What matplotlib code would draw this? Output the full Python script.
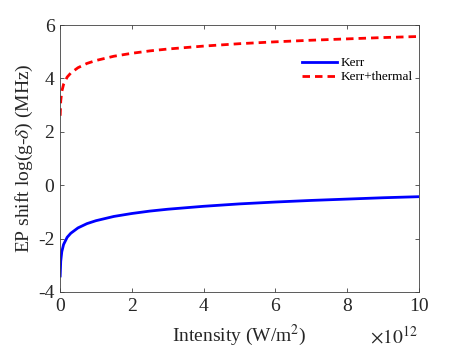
import matplotlib
matplotlib.use("Agg")
import matplotlib.pyplot as plt

intensity = [0.005, 0.02, 0.05, 0.1, 0.2, 0.3, 0.5, 0.75, 1, 1.5, 2, 2.5,
             3, 4, 5, 6, 7, 8, 9, 10]
kerr = [-3.40, -2.85, -2.49, -2.22, -1.95, -1.80, -1.60, -1.44, -1.33, -1.17,
        -1.06, -0.97, -0.90, -0.79, -0.70, -0.63, -0.57, -0.52, -0.47, -0.43]
kerr_thermal = [2.60, 3.15, 3.51, 3.78, 4.05, 4.20, 4.40, 4.56, 4.67, 4.83,
                4.94, 5.03, 5.10, 5.21, 5.30, 5.37, 5.43, 5.48, 5.53, 5.57]
xticks = [0, 2, 4, 6, 8, 10]
yticks = [-4, -2, 0, 2, 4, 6]

plt.rcParams['font.family'] = ['Liberation Serif', 'DejaVu Serif']
plt.rcParams['mathtext.fontset'] = 'stix'

fig = plt.figure(figsize=(4.63, 3.48), dpi=100)
ax = fig.add_axes([60/463, 1-292/348, (419-60)/463, (292-25)/348])

ax.plot(intensity, kerr, color='#0000ff', lw=2.0, label='Kerr')
ax.plot(intensity, kerr_thermal, color='#ff0000', lw=2.0, ls=(0, (2.7, 1.8)),
        label='Kerr+thermal')

ax.set_xlim(0, 10)
ax.set_ylim(-4, 6)
ax.set_xticks(xticks)
ax.set_yticks(yticks)
ax.set_xticklabels([str(t) for t in xticks])
ax.set_yticklabels([str(t) for t in yticks])
ax.tick_params(direction='in', top=True, right=True, length=3, width=0.6,
               color='#404040', labelsize=14, labelcolor='#262626', pad=4)
for s in ax.spines.values():
    s.set_color('#404040')
    s.set_linewidth(0.6)

ax.set_xlabel('Intensity (W/m$^2$)', fontsize=14, color='#262626', labelpad=6)
ax.set_ylabel(r'EP shift log(g-$\delta$) (MHz)', fontsize=14, color='#262626',
              labelpad=2)
fig.text(418/463, 1-336/348, r'$\times10^{12}$', fontsize=14, ha='right',
         va='center', color='#262626')

leg = ax.legend(loc='upper left', bbox_to_anchor=(0.66, 0.90), frameon=False,
                fontsize=9.5, handlelength=2.6, handletextpad=0.3,
                labelspacing=0.15, borderaxespad=0)

fig.savefig('out.png', dpi=100)
